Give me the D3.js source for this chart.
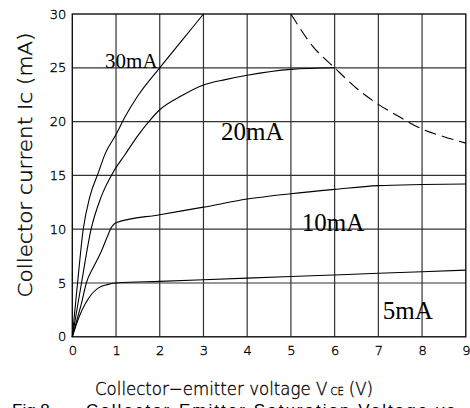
<!DOCTYPE html>
<html><head><meta charset="utf-8">
<script src="https://cdn.jsdelivr.net/npm/d3@7"></script>
<style>body{margin:0;background:#fff}svg{display:block}</style>
</head><body>
<svg id="c" width="470" height="408"></svg>
<script>
const xTicks = [0,1,2,3,4,5,6,7,8,9];
const yTicks = [0,5,10,15,20,25,30];
const curve5mA = [[0,0],[0.15,1.8],[0.3,3.1],[0.45,4.0],[0.6,4.55],[0.8,4.85],[1,5.0],[2,5.15],[3,5.3],[4,5.45],[5,5.6],[6,5.75],[7,5.9],[8,6.05],[9,6.2]];
const curve10mA = [[0,0],[0.1,1.5],[0.21,3.1],[0.32,5],[0.5,6.6],[0.66,7.9],[0.8,9.3],[0.9,10.2],[1,10.6],[2,11.35],[3,12.05],[4,12.8],[5,13.3],[6,13.7],[7,14.05],[8,14.15],[9,14.2]];
const curve20mA = [[0,0],[0.21,5],[0.43,10],[0.66,13],[0.95,15.4],[1.2,16.9],[1.5,18.7],[1.75,20],[2,21.1],[2.5,22.4],[3,23.4],[3.5,23.9],[4,24.3],[5,24.85],[6,25]];
const curve30mA = [[0,0],[0.12,5],[0.25,10],[0.4,13],[0.6,15.3],[0.75,17],[1,18.8],[1.2,20.4],[1.5,22.4],[2,25],[2.5,27.5],[3,30]];
const limitCurve = [[5,30],[5.5,27],[6,25],[6.5,23.1],[7,21.6],[7.5,20.4],[8,19.3],[8.5,18.6],[9,18]];
const curveLabels = [["30mA",0.75,25.0],["20mA",3.4,18.3],["10mA",5.25,9.8],["5mA",7.1,1.7]];
const labelSizes = [21,25,25,25];
const xTitleParts = ["Collector\u2212emitter voltage V","CE","(V)"];

const thin = "'DejaVu Sans ExtraLight', 'DejaVu Sans', sans-serif";
const svg = d3.select("#c");
const x = d3.scaleLinear().domain([0,9]).range([72.3,465.8]);
const y = d3.scaleLinear().domain([0,30]).range([336.8,14]);
function thinText(sel){ return sel.attr("font-family",thin).attr("font-weight",200).attr("fill","#000").attr("stroke","#000").attr("stroke-width",0.35); }

// grid
svg.append("g").selectAll("line").data(xTicks.slice(1,-1)).join("line")
  .attr("x1",d=>x(d)).attr("x2",d=>x(d)).attr("y1",y(0)).attr("y2",y(30))
  .attr("stroke","#333").attr("stroke-width",1.2);
svg.append("g").selectAll("line").data(yTicks.slice(1,-1)).join("line")
  .attr("y1",d=>y(d)).attr("y2",d=>y(d)).attr("x1",x(0)).attr("x2",x(9))
  .attr("stroke","#333").attr("stroke-width",1.2);
svg.append("rect").attr("x",x(0)).attr("y",y(30)).attr("width",x(9)-x(0)).attr("height",y(0)-y(30))
  .attr("fill","none").attr("stroke","#111").attr("stroke-width",1.4);

// axes (labels only)
const ax = svg.append("g").attr("transform",`translate(0,${y(0)})`)
  .call(d3.axisBottom(x).tickValues(xTicks).tickSize(0).tickPadding(9).tickFormat(d3.format("d")));
ax.select(".domain").remove();
thinText(ax.selectAll("text")).attr("font-size",13);
const ay = svg.append("g").attr("transform",`translate(${x(0)},0)`)
  .call(d3.axisLeft(y).tickValues(yTicks).tickSize(0).tickPadding(6).tickFormat(d3.format("d")));
ay.select(".domain").remove();
thinText(ay.selectAll("text")).attr("font-size",13);

// curves
const line = d3.line().x(d=>x(d[0])).y(d=>y(d[1])).curve(d3.curveMonotoneX);
[curve5mA,curve10mA,curve20mA,curve30mA].forEach(c=>{
  svg.append("path").attr("d",line(c)).attr("fill","none").attr("stroke","#000").attr("stroke-width",1.1);
});
svg.append("path").attr("d",line(limitCurve)).attr("fill","none").attr("stroke","#000")
  .attr("stroke-width",1.1).attr("stroke-dasharray","12,6");

// curve labels
svg.append("g").selectAll("text").data(curveLabels).join("text")
  .attr("x",d=>x(d[1])).attr("y",d=>y(d[2]))
  .attr("font-family","Liberation Serif, Times New Roman, serif")
  .attr("font-size",(d,i)=>labelSizes[i]).attr("fill","#000").text(d=>d[0]);

// axis titles
thinText(svg.append("text").attr("transform","translate(32,165) rotate(-90)"))
  .attr("text-anchor","middle").attr("font-size",19)
  .attr("textLength",265).attr("lengthAdjust","spacingAndGlyphs")
  .text("Collector current Ic (mA)");
// x title built from separate pieces placed one after another
const sizes = [18,11,18], gaps = [0,3.5,5];
let cx = 95;
const pieces = [];
xTitleParts.forEach((s,i)=>{
  const t = thinText(svg.append("text")).attr("y",395).attr("font-size",sizes[i]).text(s);
  pieces.push(t);
});
const widths = pieces.map(p=>p.node().getComputedTextLength());
const total = widths.reduce((a,b)=>a+b,0) + gaps.reduce((a,b)=>a+b,0);
const scaleK = 278/total;
pieces.forEach((p,i)=>{
  cx += gaps[i]*scaleK;
  p.attr("x",cx).attr("textLength",widths[i]*scaleK).attr("lengthAdjust","spacingAndGlyphs");
  cx += widths[i]*scaleK;
});

// caption (cut off at bottom, as in the reference)
svg.append("text").attr("x",12).attr("y",415.5).attr("font-family","Liberation Sans, Arial, sans-serif")
  .attr("font-size",17).attr("fill","#000").text("Fig.8");
svg.append("text").attr("x",86).attr("y",415.5).attr("font-family","Liberation Sans, Arial, sans-serif")
  .attr("font-size",17).attr("fill","#000").attr("textLength",369).attr("lengthAdjust","spacing")
  .text("Collector-Emitter Saturation Voltage vs");
</script>
</body></html>
